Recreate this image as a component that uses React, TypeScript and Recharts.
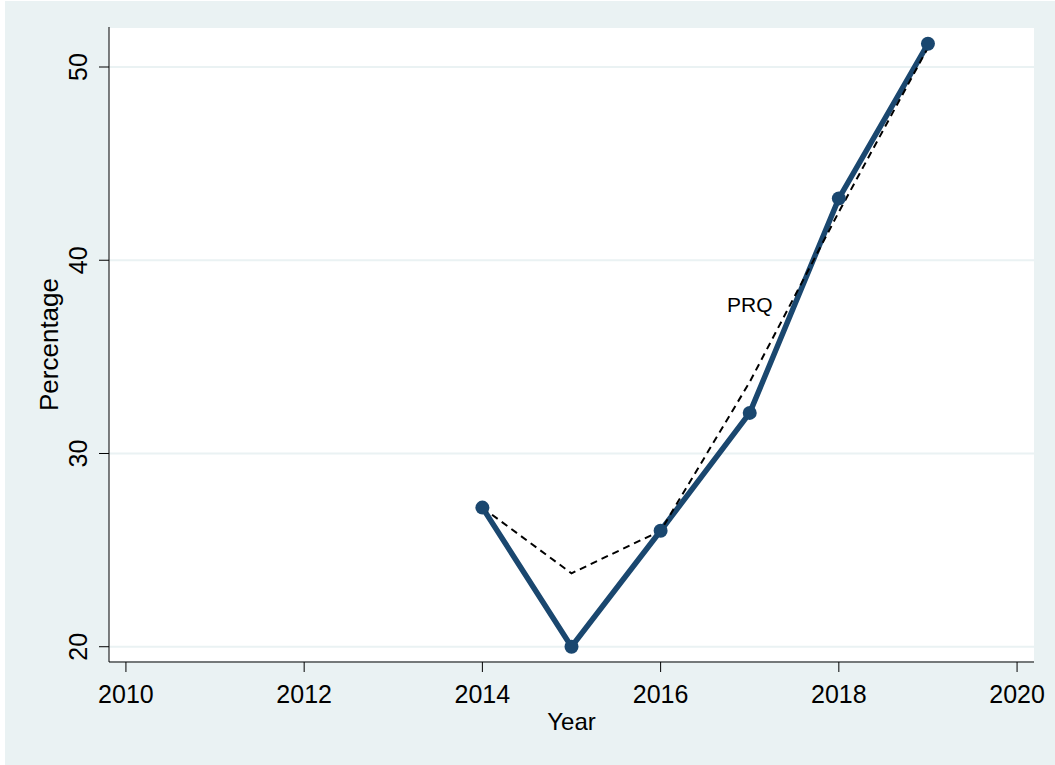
import React from "react"
import { LineChart, Line, XAxis, YAxis, CartesianGrid, ReferenceDot, Label } from "recharts"

const years = [2014, 2015, 2016, 2017, 2018, 2019]
const prq = [27.2, 20.0, 26.0, 32.1, 43.2, 51.2]
const prqFit = [27.2, 23.8, 26.0, 33.7, 42.5, 51.0]
const xTicks = [2010, 2012, 2014, 2016, 2018, 2020]
const yTicks = [20, 30, 40, 50]

const NAVY = "#1a476f"
const BG = "#eaf2f3"
const FONT = "'Liberation Sans', Arial, sans-serif"

const data = years.map((year, i) => ({ year, prq: prq[i], fit: prqFit[i] }))

const XTick = ({ x, y, payload }: any) => (
  <text x={x} y={y} dy={29} textAnchor="middle" fontSize={25} fontFamily={FONT} fill="#000">
    {payload.value}
  </text>
)

const YTick = ({ x, y, payload }: any) => {
  const tx = x - 10
  return (
    <text
      x={tx}
      y={y}
      textAnchor="middle"
      fontSize={25}
      fontFamily={FONT}
      fill="#000"
      transform={`rotate(-90, ${tx}, ${y})`}
    >
      {payload.value}
    </text>
  )
}

export default function App() {
  return (
    <div style={{ position: "absolute", left: 0, top: 0, width: 1055, height: 765, background: "#fff" }}>
      <div style={{ position: "absolute", left: 5, top: 1, width: 1050, height: 764, background: BG }}>
        <LineChart width={1050} height={764} data={data} margin={{ top: 26, right: 21, bottom: 23, left: 0 }}>
          <CartesianGrid vertical={false} fill="#ffffff" stroke={BG} strokeWidth={2} />
          <XAxis
            dataKey="year"
            type="number"
            domain={[2009.81, 2020.19]}
            ticks={xTicks}
            tick={<XTick />}
            tickSize={10}
            height={80}
            stroke="#000"
            tickLine={{ stroke: "#000" }}
            axisLine={{ stroke: "#000" }}
            allowDataOverflow
          >
            <Label
              content={({ viewBox }: any) => (
                <text
                  x={viewBox.x + viewBox.width / 2}
                  y={viewBox.y + 68}
                  textAnchor="middle"
                  fontSize={24}
                  fontFamily={FONT}
                  fill="#000"
                >
                  Year
                </text>
              )}
            />
          </XAxis>
          <YAxis
            type="number"
            domain={[19.21, 52.07]}
            ticks={yTicks}
            tick={<YTick />}
            tickSize={10}
            width={104}
            stroke="#000"
            tickLine={{ stroke: "#000" }}
            axisLine={{ stroke: "#000" }}
            allowDataOverflow
          >
            <Label
              content={({ viewBox }: any) => {
                const cx = 53
                const cy = viewBox.y + viewBox.height / 2
                return (
                  <text
                    x={cx}
                    y={cy}
                    textAnchor="middle"
                    fontSize={26}
                    fontFamily={FONT}
                    fill="#000"
                    transform={`rotate(-90, ${cx}, ${cy})`}
                  >
                    Percentage
                  </text>
                )
              }}
            />
          </YAxis>
          <Line
            dataKey="prq"
            stroke={NAVY}
            strokeWidth={5.5}
            dot={{ r: 7, fill: NAVY, stroke: NAVY, strokeWidth: 0 }}
            isAnimationActive={false}
          />
          <Line
            dataKey="fit"
            stroke="#000"
            strokeWidth={2}
            strokeDasharray="7 5"
            dot={false}
            activeDot={false}
            isAnimationActive={false}
          />
          <ReferenceDot
            x={2017}
            y={37.7}
            r={0}
            fill="none"
            stroke="none"
            label={{
              content: ({ viewBox }: any) => (
                <text
                  x={viewBox.x + (viewBox.width || 0) / 2}
                  y={viewBox.y + (viewBox.height || 0) / 2}
                  dy={7.5}
                  textAnchor="middle"
                  fontSize={21}
                  fontFamily={FONT}
                  fill="#000"
                >
                  PRQ
                </text>
              ),
            }}
          />
        </LineChart>
      </div>
    </div>
  )
}
